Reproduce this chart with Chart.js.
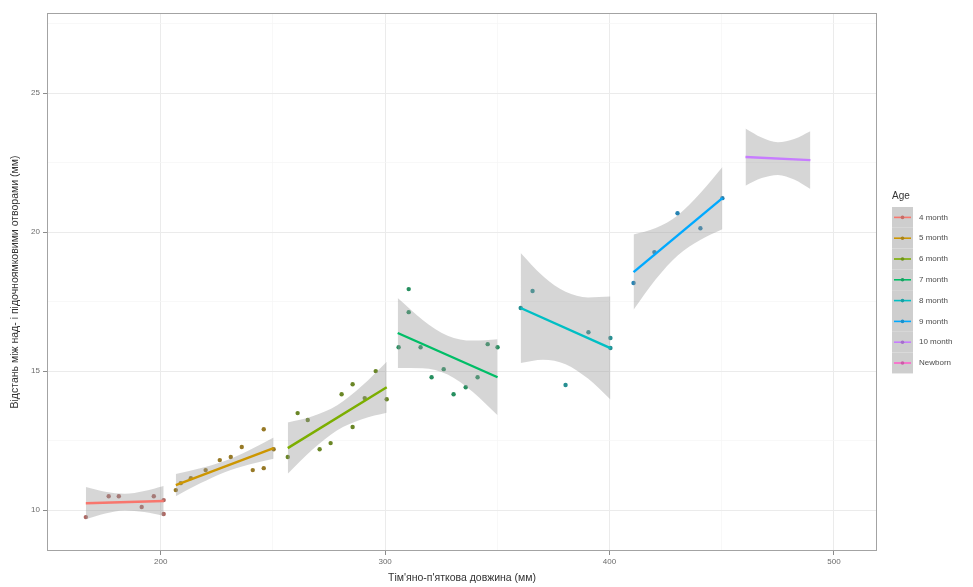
<!DOCTYPE html>
<html>
<head>
<meta charset="utf-8">
<script src="https://cdn.jsdelivr.net/npm/chart.js@4.4.1/dist/chart.umd.min.js"></script>
<style>
  html, body { margin: 0; padding: 0; background: #ffffff; }
  #c { display: block; }
</style>
</head>
<body>
<canvas id="c" width="973" height="587" style="width:973px;height:587px"></canvas>
<script>
// Age groups shown in the legend
const AGE_GROUPS = ['4 month', '5 month', '6 month', '7 month', '8 month', '9 month', '10 month', 'Newborn'];

// Individual measurements per age group, mm
// x: crown-heel length, y: distance between supra- and infraorbital foramina
const X_4M = [166.6, 176.8, 181.3, 191.5, 196.9, 201.3, 201.3];
const Y_4M = [9.75, 10.50, 10.50, 10.11, 10.50, 10.36, 9.86];

const X_5M = [206.7, 208.9, 213.4, 220.0, 226.3, 231.2, 236.1, 241.0, 245.9, 245.9, 250.3];
const Y_5M = [10.72, 10.97, 11.15, 11.44, 11.80, 11.91, 12.27, 11.44, 12.91, 11.51, 12.19];

const X_6M = [256.6, 261.0, 265.5, 270.8, 275.7, 280.6, 285.5, 285.5, 290.9, 295.8, 300.7];
const Y_6M = [11.91, 13.49, 13.24, 12.19, 12.41, 14.17, 14.53, 12.99, 14.03, 15.00, 13.99];

const X_7M = [306.0, 310.5, 310.5, 315.8, 320.7, 326.1, 330.5, 335.9, 341.2, 345.7, 350.1];
const Y_7M = [15.86, 17.95, 17.12, 15.86, 14.78, 15.07, 14.17, 14.42, 14.78, 15.97, 15.86];

const X_8M = [360.4, 365.7, 380.4, 390.6, 400.4, 400.4];
const Y_8M = [17.27, 17.88, 14.50, 16.40, 16.19, 15.83];

const X_9M = [410.7, 420.0, 430.3, 440.5, 450.3];
const Y_9M = [18.17, 19.28, 20.68, 20.14, 21.22];

const X_10M = [];
const Y_10M = [];

// Linear trend per group (4 month ... 10 month): x range and fitted y at both ends
const FIT_X0 = [166.6, 206.7, 256.6, 305.6, 360.4, 410.7, 460.6];
const FIT_X1 = [201.3, 250.3, 300.7, 350.1, 400.4, 450.3, 489.5];
const FIT_Y0 = [10.25, 10.90, 12.23, 16.37, 17.27, 18.56, 22.70];
const FIT_Y1 = [10.33, 12.23, 14.42, 14.78, 15.83, 21.22, 22.59];

// Half-width of the confidence band at 0, 1/4, 1/2, 3/4 and the end of each trend
const CI_W0  = [0.58, 0.40, 0.92, 1.26, 1.98, 1.35, 1.03];
const CI_WQ1 = [0.39, 0.27, 0.60, 0.87, 1.50, 0.92, 0.73];
const CI_WM  = [0.30, 0.20, 0.45, 0.70, 1.30, 0.72, 0.59];
const CI_WQ3 = [0.38, 0.26, 0.60, 0.92, 1.46, 0.84, 0.73];
const CI_W1  = [0.54, 0.38, 0.92, 1.37, 1.85, 1.12, 1.04];

// Axis labels
const X_LABELS = [200, 300, 400, 500];
const Y_LABELS = [10, 15, 20, 25];
const X_GRID = [200, 250, 300, 350, 400, 450, 500];
const Y_GRID = [10, 12.5, 15, 17.5, 20, 22.5, 25, 27.5];
const X_TITLE = "Тім'яно-п'яткова довжина (мм)";
const Y_TITLE = 'Відстань між над- і підочноямковими отворами (мм)';
const LEGEND_TITLE = 'Age';

// ---- styling ----
const COLORS = ['#F8766D', '#CD9600', '#7CAE00', '#00BE67', '#00BFC4', '#00A9FF', '#C77CFF', '#FF61CC'];
const BAND_FILL = 'rgba(153,153,153,0.4)';
const FONT = '"Liberation Sans", Arial, sans-serif';
const X_RANGE = { min: 149.3, max: 519.2 };
const Y_RANGE = { min: 8.53, max: 27.88 };

function mix(hex, other, t) {
  const a = [1, 3, 5].map(i => parseInt(hex.slice(i, i + 2), 16));
  const b = [1, 3, 5].map(i => parseInt(other.slice(i, i + 2), 16));
  return 'rgb(' + a.map((v, i) => Math.round(v * (1 - t) + b[i] * t)).join(',') + ')';
}

const POINT_X = [X_4M, X_5M, X_6M, X_7M, X_8M, X_9M, X_10M];
const POINT_Y = [Y_4M, Y_5M, Y_6M, Y_7M, Y_8M, Y_9M, Y_10M];

const datasets = [];
for (let g = 0; g < FIT_X0.length; g++) {
  const xs = POINT_X[g], ys = POINT_Y[g];
  if (xs.length) {
    datasets.push({
      type: 'scatter',
      label: AGE_GROUPS[g],
      data: xs.map((x, i) => ({ x, y: ys[i] })),
      pointRadius: 2.2,
      pointBackgroundColor: mix(COLORS[g], '#555555', 0.45),
      pointBorderWidth: 0,
      showLine: false,
      order: 30
    });
  }
  // positions along the trend where the band half-width is given
  const fr = [0, 0.25, 0.5, 0.75, 1];
  const bx = fr.map(f => FIT_X0[g] + f * (FIT_X1[g] - FIT_X0[g]));
  const by = fr.map(f => FIT_Y0[g] + f * (FIT_Y1[g] - FIT_Y0[g]));
  const bw = [CI_W0[g], CI_WQ1[g], CI_WM[g], CI_WQ3[g], CI_W1[g]];
  // lower edge of the band
  datasets.push({
    type: 'line',
    data: bx.map((x, i) => ({ x, y: by[i] - bw[i] })),
    borderColor: 'rgba(0,0,0,0)',
    borderWidth: 0,
    pointRadius: 0,
    fill: false,
    cubicInterpolationMode: 'monotone',
    order: 20
  });
  // upper edge, filled down to the lower edge
  datasets.push({
    type: 'line',
    data: bx.map((x, i) => ({ x, y: by[i] + bw[i] })),
    borderColor: 'rgba(0,0,0,0)',
    borderWidth: 0,
    pointRadius: 0,
    fill: '-1',
    backgroundColor: BAND_FILL,
    cubicInterpolationMode: 'monotone',
    order: 20
  });
  // trend line
  datasets.push({
    type: 'line',
    data: [{ x: FIT_X0[g], y: FIT_Y0[g] }, { x: FIT_X1[g], y: FIT_Y1[g] }],
    borderColor: COLORS[g],
    borderWidth: 2.4,
    pointRadius: 0,
    fill: false,
    order: 10
  });
}

// Panel frame drawn around the plotting area
const panelBorder = {
  id: 'panelBorder',
  afterDatasetsDraw(chart) {
    const { ctx, chartArea: a } = chart;
    ctx.save();
    ctx.strokeStyle = '#a3a3a3';
    ctx.lineWidth = 1;
    ctx.strokeRect(a.left + 0.5, a.top + 0.5, a.right - a.left - 1, a.bottom - a.top - 1);
    ctx.restore();
  }
};

// Legend with grey key boxes, a line segment and a dot per age group
const ageLegend = {
  id: 'ageLegend',
  afterDraw(chart) {
    const ctx = chart.ctx;
    const L = { x: 892, titleY: 196, top: 207, keyW: 21, keyH: 20.8, textX: 919 };
    ctx.save();
    ctx.fillStyle = '#333333';
    ctx.font = '10px ' + FONT;
    ctx.textBaseline = 'middle';
    ctx.textAlign = 'left';
    ctx.fillText(LEGEND_TITLE, L.x, L.titleY);
    AGE_GROUPS.forEach((name, i) => {
      const y0 = L.top + i * L.keyH;
      const cy = y0 + L.keyH / 2;
      ctx.fillStyle = '#f2f2f2';
      ctx.fillRect(L.x, y0, L.keyW, L.keyH);
      ctx.fillStyle = BAND_FILL;
      ctx.fillRect(L.x, y0, L.keyW, L.keyH);
      ctx.strokeStyle = COLORS[i];
      ctx.lineWidth = 1.6;
      ctx.beginPath();
      ctx.moveTo(L.x + 2, cy);
      ctx.lineTo(L.x + L.keyW - 2, cy);
      ctx.stroke();
      ctx.fillStyle = mix(COLORS[i], '#555555', 0.3);
      ctx.beginPath();
      ctx.arc(L.x + L.keyW / 2, cy, 1.8, 0, Math.PI * 2);
      ctx.fill();
      ctx.fillStyle = '#4d4d4d';
      ctx.font = '8px ' + FONT;
      ctx.fillText(name, L.textX, cy);
    });
    ctx.restore();
  }
};

const isMajorX = v => X_LABELS.includes(v);
const isMajorY = v => Y_LABELS.includes(v);

new Chart(document.getElementById('c'), {
  type: 'scatter',
  data: { datasets },
  plugins: [panelBorder, ageLegend],
  options: {
    responsive: false,
    devicePixelRatio: 1,
    animation: false,
    layout: { padding: { left: 0, top: 13, right: 96, bottom: 0 } },
    plugins: {
      legend: { display: false },
      tooltip: { enabled: false }
    },
    scales: {
      x: {
        type: 'linear',
        min: X_RANGE.min,
        max: X_RANGE.max,
        afterBuildTicks: s => { s.ticks = X_GRID.map(v => ({ value: v })); },
        afterFit: s => { s.height = 36; },
        border: { display: false },
        grid: {
          color: c => isMajorX(c.tick.value) ? '#ebebeb' : '#f5f5f5',
          lineWidth: c => isMajorX(c.tick.value) ? 1 : 0.7,
          drawTicks: true,
          tickLength: 4,
          tickColor: c => isMajorX(c.tick.value) ? '#8c8c8c' : 'rgba(0,0,0,0)'
        },
        ticks: {
          autoSkip: false,
          maxRotation: 0,
          padding: 2,
          color: '#6b6b6b',
          font: { family: FONT, size: 8 },
          callback: v => isMajorX(v) ? String(v) : ''
        },
        title: {
          display: true,
          text: X_TITLE,
          color: '#333333',
          font: { family: FONT, size: 10.5 },
          padding: { top: 0, bottom: 3 }
        }
      },
      y: {
        type: 'linear',
        min: Y_RANGE.min,
        max: Y_RANGE.max,
        afterBuildTicks: s => { s.ticks = Y_GRID.map(v => ({ value: v })); },
        afterFit: s => { s.width = 47; },
        border: { display: false },
        grid: {
          color: c => isMajorY(c.tick.value) ? '#ebebeb' : '#f5f5f5',
          lineWidth: c => isMajorY(c.tick.value) ? 1 : 0.7,
          drawTicks: true,
          tickLength: 4,
          tickColor: c => isMajorY(c.tick.value) ? '#8c8c8c' : 'rgba(0,0,0,0)'
        },
        ticks: {
          autoSkip: false,
          padding: 3,
          color: '#6b6b6b',
          font: { family: FONT, size: 8 },
          callback: v => isMajorY(v) ? String(v) : ''
        },
        title: {
          display: true,
          text: Y_TITLE,
          color: '#333333',
          font: { family: FONT, size: 10.5 },
          padding: { top: 9, bottom: 0 }
        }
      }
    }
  }
});
</script>
</body>
</html>
